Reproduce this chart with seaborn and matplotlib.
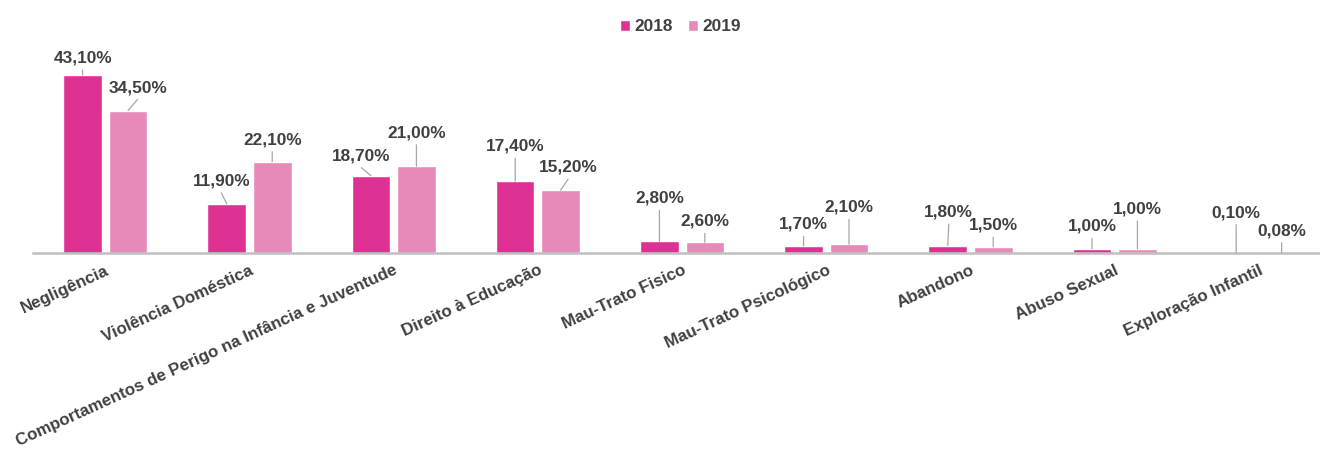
import matplotlib
matplotlib.use('Agg')
import matplotlib.pyplot as plt
import pandas as pd
import seaborn as sns

categorias = ['Negligência', 'Violência Doméstica',
              'Comportamentos de Perigo na Infância e Juventude',
              'Direito à Educação', 'Mau-Trato Fisico', 'Mau-Trato Psicológico',
              'Abandono', 'Abuso Sexual', 'Exploração Infantil']
anos = ['2018', '2019']
valores_2018 = [43.10, 11.90, 18.70, 17.40, 2.80, 1.70, 1.80, 1.00, 0.10]
valores_2019 = [34.50, 22.10, 21.00, 15.20, 2.60, 2.10, 1.50, 1.00, 0.08]

# posição dos rótulos (pixels, relativo ao topo da barra)
offs_2018 = [(0, 17), (-5.5, 23), (-9.5, 20), (0, 35), (0, 43), (0, 21.5), (1, 33.5), (0, 22.5), (0, 40)]
offs_2019 = [(9.5, 23), (0, 22), (0, 33.5), (7.5, 23), (0, 21), (0, 37), (0, 21.5), (0, 40), (0, 22)]

cores = ['#DE3193', '#E78AB9']
cinza = '#404040'

df = pd.DataFrame({
    'categoria': categorias * 2,
    'ano': [anos[0]] * len(categorias) + [anos[1]] * len(categorias),
    'valor': valores_2018 + valores_2019,
})

sns.set_style('white')
plt.rcParams['font.family'] = ['Liberation Sans', 'DejaVu Sans']

fig = plt.figure(figsize=(13.2, 4.55), dpi=100)
ax = fig.add_axes([33.2 / 1320, 202 / 455, 1297.8 / 1320, 213 / 455])
sns.barplot(data=df, x='categoria', y='valor', hue='ano', palette=cores,
            width=0.63, gap=0.15, saturation=1, ax=ax)

ax.set_xlim(-0.5, 8.5)
ax.set_ylim(0, 51.57)
ax.set_xlabel('')
ax.set_ylabel('')
ax.set_yticks([])
for s in ['top', 'left', 'right']:
    ax.spines[s].set_visible(False)
ax.spines['bottom'].set_color('#BFBFBF')
ax.spines['bottom'].set_linewidth(1.8)

ax.set_xticks(range(len(categorias)))
ax.set_xticklabels(categorias, rotation=24.5, ha='right', rotation_mode='anchor',
                   fontsize=12.2, fontweight='bold', color=cinza)
ax.tick_params(axis='x', length=0, pad=7)

for cont, vals, offs in zip(ax.containers, [valores_2018, valores_2019], [offs_2018, offs_2019]):
    for bar, v, (dx, dy) in zip(cont, vals, offs):
        x = bar.get_x() + bar.get_width() / 2
        if dy - 12 > 3:
            ax.annotate('', xy=(x, v), xytext=(dx, dy - 12), textcoords='offset pixels',
                        arrowprops=dict(arrowstyle='-', color='#A6A6A6', lw=0.9,
                                        shrinkA=0, shrinkB=0))
        ax.annotate(f'{v:.2f}%'.replace('.', ','), xy=(x, v), xytext=(dx, dy),
                    textcoords='offset pixels', ha='center', va='center',
                    fontsize=12.4, fontweight='bold', color=cinza)

handles, labels = ax.get_legend_handles_labels()
ax.legend(handles, labels, loc='center', bbox_to_anchor=(0.5155, 0.9407),
          bbox_transform=fig.transFigure, ncol=2, frameon=False,
          handlelength=0.55, handleheight=0.6, handletextpad=0.25, columnspacing=0.9,
          prop={'size': 12.4, 'weight': 'bold'}, labelcolor=cinza)

fig.savefig('out.png', dpi=100)
